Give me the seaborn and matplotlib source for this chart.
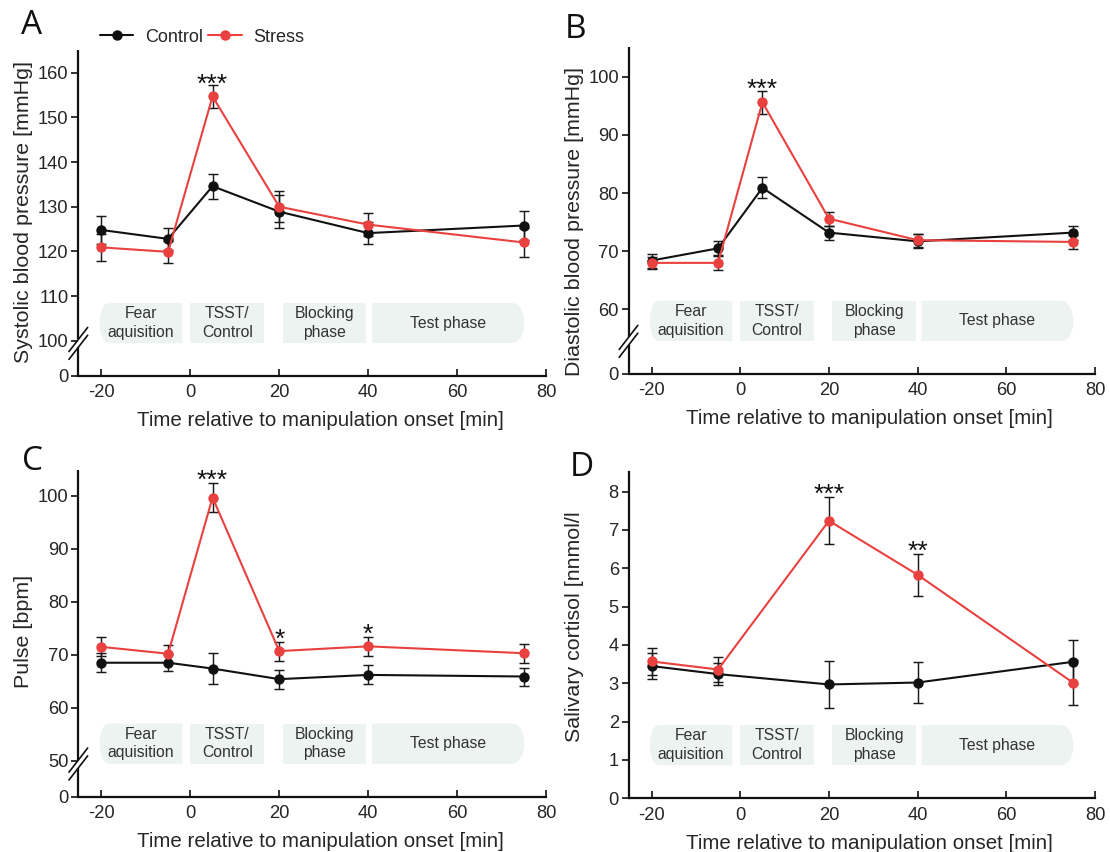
import numpy as np
import pandas as pd
import matplotlib
matplotlib.use("Agg")
import matplotlib.pyplot as plt
import matplotlib.transforms as mtransforms
from matplotlib.patches import Polygon
from matplotlib.lines import Line2D
import seaborn as sns

sns.set_style("ticks")
plt.rcParams['font.family'] = ['Liberation Sans', 'DejaVu Sans']

# ---------------- data ----------------
groups = ["Control", "Stress"]
times_bp = [-20, -5, 5, 20, 40, 75]
times_cort = [-20, -5, 20, 40, 75]

sys_control = [124.8, 122.8, 134.6, 128.9, 124.1, 125.8]
sys_control_err = [3.2, 2.4, 2.8, 3.7, 2.5, 3.3]
sys_stress = [120.9, 119.9, 154.7, 130.0, 126.0, 122.0]
sys_stress_err = [3.1, 2.5, 2.6, 3.5, 2.6, 3.3]

dia_control = [68.4, 70.5, 80.9, 73.2, 71.7, 73.2]
dia_control_err = [1.2, 1.3, 1.8, 1.2, 1.2, 1.2]
dia_stress = [68.0, 68.0, 95.6, 75.6, 71.9, 71.6]
dia_stress_err = [1.0, 1.3, 2.0, 1.2, 1.1, 1.2]

pulse_control = [68.5, 68.5, 67.4, 65.4, 66.2, 65.9]
pulse_control_err = [1.8, 1.6, 2.9, 1.8, 1.8, 1.7]
pulse_stress = [71.5, 70.2, 99.7, 70.7, 71.6, 70.3]
pulse_stress_err = [1.8, 1.6, 2.8, 1.8, 1.8, 1.8]

cort_control = [3.45, 3.24, 2.97, 3.02, 3.56]
cort_control_err = [0.33, 0.28, 0.62, 0.53, 0.58]
cort_stress = [3.57, 3.36, 7.24, 5.83, 3.02]
cort_stress_err = [0.35, 0.32, 0.61, 0.54, 0.59]

phase_labels = ["Fear\naquisition", "TSST/\nControl", "Blocking\nphase", "Test phase"]
phase_spans = [(-20.4, -1.8), (0.0, 16.6), (20.8, 39.6), (40.9, 75.1)]

stars_A = [(5, 159.1, "***")]
stars_B = [(5, 99.1, "***")]
stars_C = [(5, 104.5, "***"), (20, 74.35, "*"), (40, 75.3, "*")]
stars_D = [(20, 8.13, "***"), (40, 6.64, "**")]

xticks = [-20, 0, 20, 40, 60, 80]
xlabel = "Time relative to manipulation onset [min]"

# ---------------- style ----------------
BLACK = "#111111"
RED = "#e8413f"
BOX = "#ecf3f0"
palette = {"Control": BLACK, "Stress": RED}

fig = plt.figure(figsize=(11.1, 8.52), dpi=100)
W, H = 1110, 852


def add_axes(left, right, bottom, top):
    return fig.add_axes([left / W, 1 - bottom / H, (right - left) / W, (bottom - top) / H])


def broken_scale(lo, gap):
    def fwd(y):
        y = np.asarray(y, dtype=float)
        return np.where(y >= lo, y - lo + gap, y * gap / lo)

    def inv(v):
        v = np.asarray(v, dtype=float)
        return np.where(v >= gap, v - gap + lo, v * lo / gap)
    return fwd, inv


def phase_shape(x0, x1, y0, y1, kind, b):
    ym = (y0 + y1) / 2
    hh = (y1 - y0) / 2
    t = np.linspace(1, -1, 40)
    if kind == "left":
        arc = [(x0 + b * (1 - np.sqrt(1 - tt ** 2)), ym + tt * hh) for tt in t]
        pts = [(x1, y1)] + arc + [(x1, y0)]
    elif kind == "right":
        arc = [(x1 - b * (1 - np.sqrt(1 - tt ** 2)), ym + tt * hh) for tt in t]
        pts = [(x0, y1)] + arc + [(x0, y0)]
    else:
        pts = [(x0, y0), (x0, y1), (x1, y1), (x1, y0)]
    return pts


def draw_panel(ax, times, c, ce, s, se, ylabel, yticks, ylim_top, lo, gap,
               stars, ylabel_y, legend=False):
    df = pd.DataFrame({
        "time": list(times) * 2,
        "value": list(c) + list(s),
        "group": ["Control"] * len(times) + ["Stress"] * len(times),
    })
    if lo is not None:
        fwd, inv = broken_scale(lo, gap)
        ax.set_yscale("function", functions=(fwd, inv))
    for vals, errs in ((c, ce), (s, se)):
        ax.errorbar(times, vals, yerr=errs, fmt="none", ecolor="#1a1a1a",
                    elinewidth=1.05, capsize=3.5, capthick=1.05, zorder=1.8)
    sns.lineplot(data=df, x="time", y="value", hue="group", hue_order=groups,
                 palette=palette, marker="o", markersize=7.5, markeredgewidth=0,
                 linewidth=1.5, errorbar=None, legend=False, ax=ax, zorder=2)

    ax.set_xlim(-25.2, 80)
    ax.set_ylim(0, ylim_top)
    ax.set_xticks(xticks)
    ax.set_xticklabels([str(v) for v in xticks])
    ax.set_yticks(yticks)
    ax.set_yticklabels([str(v) for v in yticks])
    ax.tick_params(axis="x", direction="in", length=5, width=1.2, labelsize=13.2,
                   pad=6, color="#111111")
    ax.tick_params(axis="y", direction="out", length=5, width=1.2, labelsize=13.2,
                   pad=2, color="#111111")
    for sp in ("top", "right"):
        ax.spines[sp].set_visible(False)
    ax.spines["bottom"].set_linewidth(1.6)
    ax.spines["bottom"].set_color("#111111")
    if lo is not None:
        ax.spines["left"].set_visible(False)
        bc = 0.10
        g = 0.012
        ax.plot([0, 0], [0, bc - g], transform=ax.transAxes, color="#111111",
                lw=1.6, clip_on=False, solid_capstyle="butt")
        ax.plot([0, 0], [bc + g, 1], transform=ax.transAxes, color="#111111",
                lw=1.6, clip_on=False, solid_capstyle="butt")
        for off in (-g, g):
            ax.plot([-0.02, 0.02], [bc + off - 0.037, bc + off + 0.037],
                    transform=ax.transAxes, color="#111111", lw=1.2, clip_on=False)
    else:
        ax.spines["left"].set_linewidth(1.6)
        ax.spines["left"].set_color("#111111")

    ax.set_xlabel(xlabel, fontsize=14.8)
    ax.set_ylabel(ylabel, fontsize=15.4)
    ax.yaxis.set_label_coords(-0.096, ylabel_y)
    ax.xaxis.set_label_coords(0.517, -0.108)

    # phase boxes
    trans = mtransforms.blended_transform_factory(ax.transData, ax.transAxes)
    kinds = ["left", "rect", "rect", "right"]
    y0, y1 = 0.101, 0.224
    for (x0, x1), lab, kind in zip(phase_spans, phase_labels, kinds):
        pts = phase_shape(x0, x1, y0, y1, kind, 2.6 if kind == "right" else 2.0)
        ax.add_patch(Polygon(pts, closed=True, facecolor=BOX, edgecolor="none",
                             transform=trans, zorder=0.5))
        ax.text((x0 + x1) / 2, (y0 + y1) / 2, lab, transform=trans, ha="center",
                va="center", fontsize=11.3, color="#333333", linespacing=1.3,
                zorder=0.6)

    for x, y, txt in stars:
        ax.annotate(txt, xy=(x, y), xytext=(0, -0.58 * 19), textcoords="offset points",
                    ha="center", va="baseline", fontsize=19, color="#111111")

    if legend:
        handles = [Line2D([], [], color=palette[g_], marker="o", markersize=7.5,
                          markeredgewidth=0, linewidth=1.5) for g_ in groups]
        ax.legend(handles, groups, loc="center left", bbox_to_anchor=(0.046, 1.039),
                  ncol=2, frameon=False, fontsize=13, handlelength=1.85,
                  handletextpad=0.65, columnspacing=0.3, borderaxespad=0, borderpad=0)


axA = add_axes(78.3, 546, 376, 50)
axB = add_axes(628.5, 1095, 374, 47.3)
axC = add_axes(78.3, 546, 796.7, 470)
axD = add_axes(628.5, 1095, 798.3, 471.7)

draw_panel(axA, times_bp, sys_control, sys_control_err, sys_stress, sys_stress_err,
           "Systolic blood pressure [mmHg]", [0, 100, 110, 120, 130, 140, 150, 160],
           165.1, 100, 7.9, stars_A, 0.503, legend=True)
draw_panel(axB, times_bp, dia_control, dia_control_err, dia_stress, dia_stress_err,
           "Diastolic blood pressure [mmHg]", [0, 60, 70, 80, 90, 100],
           105.05, 60, 11.1, stars_B, 0.468)
draw_panel(axC, times_bp, pulse_control, pulse_control_err, pulse_stress, pulse_stress_err,
           "Pulse [bpm]", [0, 50, 60, 70, 80, 90, 100],
           104.9, 50, 6.8, stars_C, 0.507)
draw_panel(axD, times_cort, cort_control, cort_control_err, cort_stress, cort_stress_err,
           "Salivary cortisol [nnmol/l", [0, 1, 2, 3, 4, 5, 6, 7, 8],
           8.52, None, None, stars_D, 0.524)

for lab, x, y in (("A", 21, 26), ("B", 565, 29), ("C", 22, 461), ("D", 570, 467)):
    fig.text(x / W, 1 - y / H, lab, ha="left", va="center", fontsize=24,
             family=["Open Sans", "DejaVu Sans"], color="#111111")

fig.savefig("out.png", dpi=100, facecolor="white")
